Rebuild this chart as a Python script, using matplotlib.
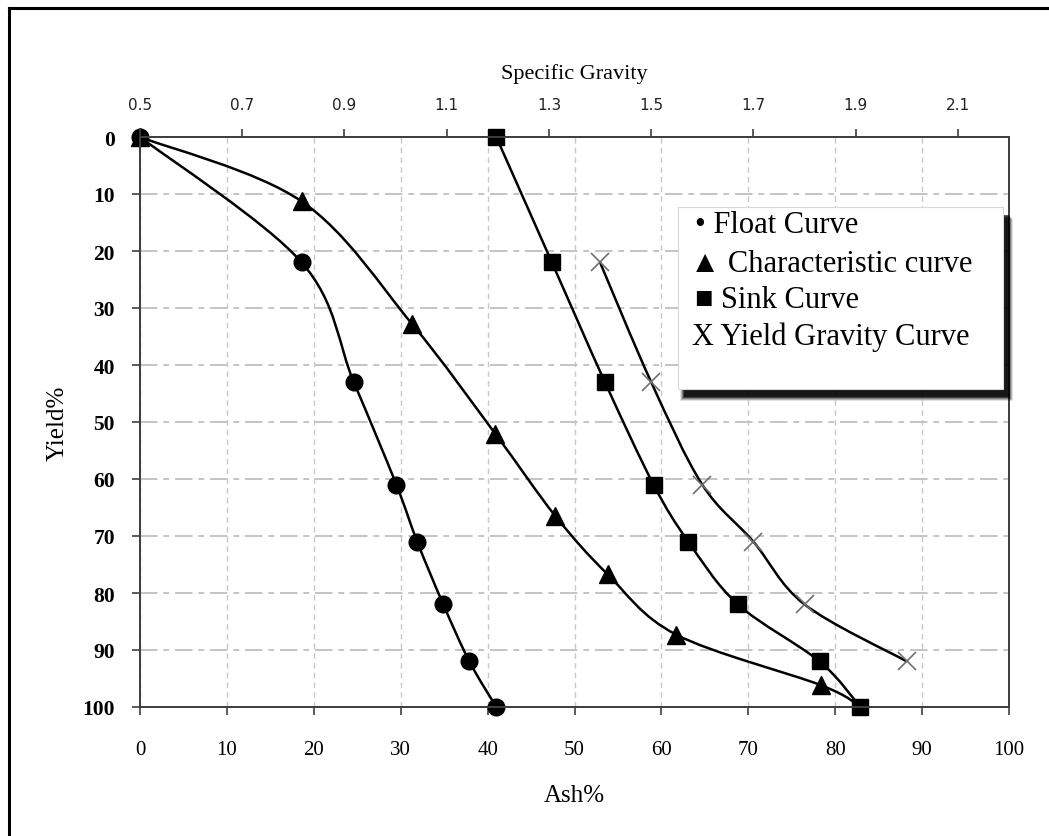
import numpy as np
import matplotlib
matplotlib.use("Agg")
import matplotlib.pyplot as plt
from matplotlib.path import Path
from matplotlib.patches import PathPatch, Rectangle
from matplotlib.lines import Line2D

# ---- data ----
float_ash = [0, 18.6, 24.6, 29.5, 31.9, 34.9, 37.9, 41.0]
float_yield = [0, 22, 43, 61, 71, 82, 92, 100]

char_ash = [0, 18.6, 31.3, 40.9, 47.8, 53.8, 61.7, 78.4, 82.9]
char_yield = [0, 11.3, 32.8, 52.1, 66.5, 76.7, 87.3, 96.2, 100]

sink_ash = [41.0, 47.4, 53.5, 59.1, 63.1, 68.8, 78.2, 82.9]
sink_yield = [0, 22, 43, 61, 71, 82, 92, 100]

sg_values = [1.4, 1.5, 1.6, 1.7, 1.8, 2.0]
sg_yield = [22, 43, 61, 71, 82, 92]

ash_ticks = list(range(0, 101, 10))
yield_ticks = list(range(0, 101, 10))
sg_ticks = [0.5, 0.7, 0.9, 1.1, 1.3, 1.5, 1.7, 1.9, 2.1]

legend_lines = ["\u2022 Float Curve", "\u25B2 Characteristic curve",
                "\u25A0 Sink Curve", "X Yield Gravity Curve"]

SERIF = ["Liberation Serif", "DejaVu Serif"]


def smooth_path(xs, ys):
    pts = np.column_stack([xs, ys]).astype(float)
    n = len(pts)
    verts = [pts[0]]
    codes = [Path.MOVETO]
    for i in range(n - 1):
        p0 = pts[i - 1] if i > 0 else pts[i]
        p1 = pts[i]
        p2 = pts[i + 1]
        p3 = pts[i + 2] if i + 2 < n else pts[i + 1]
        c1 = p1 + (p2 - p0) / 6.0
        c2 = p2 - (p3 - p1) / 6.0
        verts += [c1, c2, p2]
        codes += [Path.CURVE4] * 3
    return Path(verts, codes)


W, H = 1049, 837
fig = plt.figure(figsize=(W / 100, H / 100), dpi=100)
fig.patch.set_facecolor("white")

L, R, T, B = 140, 1009, 138, 708
ax = fig.add_axes([L / W, 1 - B / H, (R - L) / W, (B - T) / H])
ax.set_xlim(0, 100)
ax.set_ylim(100, 0)

spine_c = "#404040"
for s in ax.spines.values():
    s.set_color(spine_c)
    s.set_linewidth(1.4)

ax.set_xticks(ash_ticks)
ax.set_yticks(yield_ticks)
ax.set_xticklabels([str(t) for t in ash_ticks], fontfamily=SERIF, fontsize=15)
ax.set_yticklabels([str(t) for t in yield_ticks], fontfamily=SERIF, fontsize=15.5,
                   fontweight="bold")
ax.tick_params(axis="x", direction="out", length=6, width=1.2, color=spine_c, pad=18)
ax.tick_params(axis="y", direction="out", length=6, width=1.2, color=spine_c, pad=12)

ax.xaxis.grid(True, linestyle=(0, (4, 3)), color="#c8c8c8", linewidth=1.0)
ax.yaxis.grid(True, linestyle=(0, (9, 3, 3, 3)), color="#c4c4c4", linewidth=1.4)
ax.set_axisbelow(True)

ax.set_xlabel("Ash%", fontfamily=SERIF, fontsize=18, labelpad=18)
ax.set_ylabel("Yield%", fontfamily=SERIF, fontsize=18, labelpad=10)

# curves on the ash axis
for xs, ys in [(float_ash, float_yield), (char_ash, char_yield), (sink_ash, sink_yield)]:
    ax.add_patch(PathPatch(smooth_path(xs, ys), fill=False, edgecolor="black",
                           linewidth=1.8, zorder=3))

ax.plot(float_ash, float_yield, linestyle="none", marker="o", markersize=12,
        color="black", zorder=4, clip_on=False)
ax.plot(char_ash[:-1], char_yield[:-1], linestyle="none", marker="^", markersize=13,
        color="black", zorder=4, clip_on=False)
ax.plot(sink_ash, sink_yield, linestyle="none", marker="s", markersize=12,
        color="black", zorder=5, clip_on=False)

# secondary (specific gravity) axis
ax2 = ax.twiny()
ax2.set_xlim(0.5, 2.2)
ax2.set_xticks(sg_ticks)
ax2.set_xticklabels([f"{t:.1f}" for t in sg_ticks], fontfamily="DejaVu Sans",
                    fontsize=11, color="#222222")
ax2.tick_params(axis="x", direction="out", length=6, width=1.2, color=spine_c, pad=12)
for s in ax2.spines.values():
    s.set_color(spine_c)
    s.set_linewidth(1.4)
ax2.set_xlabel("Specific Gravity", fontfamily=SERIF, fontsize=16, labelpad=14)

ax2.add_patch(PathPatch(smooth_path(sg_values, sg_yield), fill=False,
                        edgecolor="black", linewidth=1.8, zorder=3))
ax2.plot(sg_values, sg_yield, linestyle="none", marker="x", markersize=13,
         markeredgewidth=1.2, color="#707070", zorder=4)

# legend box with blurred shadow
lx0, ly0, lx1, ly1 = 678, 208, 1003, 390
for k, a in enumerate([0.12, 0.2, 0.3, 0.45, 0.65]):
    grow = 4 - k
    fig.patches.append(Rectangle(((lx0 + 6 - grow) / W, 1 - (ly1 + 8 + grow) / H),
                                 (lx1 - lx0 + 2 * grow) / W, (ly1 - ly0) / H,
                                 transform=fig.transFigure, facecolor="black",
                                 edgecolor="none", alpha=a, zorder=9))
fig.patches.append(Rectangle((lx0 / W, 1 - ly1 / H), (lx1 - lx0) / W, (ly1 - ly0) / H,
                             transform=fig.transFigure, facecolor="white",
                             edgecolor="#d8d8d8", linewidth=0.8, zorder=10))
xs_leg = [695, 690, 695, 692]
ys_leg = [233, 272, 308, 345]
for txt, x, y in zip(legend_lines, xs_leg, ys_leg):
    fig.text(x / W, 1 - y / H, txt, fontfamily=SERIF, fontsize=22, ha="left",
             va="baseline", zorder=11)

# outer frame (left and top)
fig.add_artist(Line2D([9 / W, 9 / W], [0, 1 - 9 / H], transform=fig.transFigure,
                      color="black", linewidth=2.2))
fig.add_artist(Line2D([9 / W, 1], [1 - 9 / H, 1 - 9 / H], transform=fig.transFigure,
                      color="black", linewidth=2.2))

fig.savefig("out.png", dpi=100)
